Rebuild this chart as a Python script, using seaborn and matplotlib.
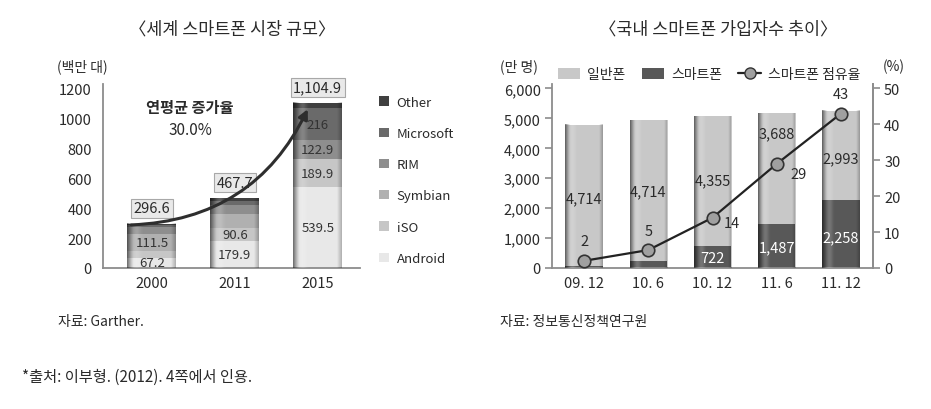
import numpy as np
import pandas as pd
import matplotlib
matplotlib.use("Agg")
import matplotlib.pyplot as plt
import seaborn as sns
from matplotlib.patches import Patch
from matplotlib.lines import Line2D

# ---------------- data ----------------
years = ["2000", "2011", "2015"]
android = [67.2, 179.9, 539.5]
ios = [46.6, 90.6, 189.9]
symbian = [111.5, 89.9, 0.7]
rim = [47.5, 62.6, 122.9]
microsoft = [12.4, 26.3, 216.0]
other = [11.4, 18.4, 35.9]
total_labels = ["296.6", "467.7", "1,104.9"]
os_names = ["Android", "iSO", "Symbian", "RIM", "Microsoft", "Other"]

periods = ["09. 12", "10. 6", "10. 12", "11. 6", "11. 12"]
feature = [4714, 4714, 4355, 3688, 2993]
smart = [80, 220, 722, 1487, 2258]
share = [2, 5, 14, 29, 43]

# ---------------- style ----------------
sns.set_theme(style="white")
FONT = ["Noto Sans CJK KR", "DejaVu Sans"]
plt.rcParams["font.family"] = FONT
TXT = "#2a2a2a"
SPINE = "#8c8c8c"

W, H = 931, 410
fig = plt.figure(figsize=(W / 100, H / 100), dpi=100)
fig.patch.set_facecolor("white")


def fx(px):
    return px / W


def fy(py):
    return 1 - py / H


def shade(ax, xc, width, top, z):
    u = np.linspace(0, 1, 240)
    dark = 0.55 * np.clip(1 - u / 0.14, 0, 1) ** 1.3 + 0.25 * np.clip((u - 0.90) / 0.10, 0, 1)
    img = np.zeros((1, 240, 4))
    img[..., 3] = dark
    ax.imshow(img, extent=(xc - width / 2, xc + width / 2, 0, top), aspect="auto",
              zorder=z, interpolation="bilinear")
    light = 0.18 * np.exp(-((u - 0.2) / 0.08) ** 2)
    img2 = np.ones((1, 240, 4))
    img2[..., 3] = light
    ax.imshow(img2, extent=(xc - width / 2, xc + width / 2, 0, top), aspect="auto",
              zorder=z, interpolation="bilinear")


# ================= LEFT CHART =================
ax1 = fig.add_axes([fx(103), fy(269), fx(257), (269 - 85) / H])
layers = np.array([android, ios, symbian, rim, microsoft, other])
cum = np.cumsum(layers, axis=0)
colors_os = ["#e8e8e8", "#c6c6c6", "#b0b0b0", "#8e8e8e", "#6a6a6a", "#404040"]
bw1 = 0.59
for i in reversed(range(len(os_names))):
    sns.barplot(x=years, y=cum[i], color=colors_os[i], saturation=1, width=bw1,
                errorbar=None, linewidth=0, ax=ax1, zorder=2)
totals = cum[-1]
for j in range(len(years)):
    shade(ax1, j, bw1, totals[j], 3)

# segment labels
label_cells = [(0, 0), (0, 1), (0, 2), (1, 1), (1, 2), (2, 0), (3, 2), (4, 2)]
for (i, j) in label_cells:
    v = layers[i, j]
    base = cum[i, j] - v
    ax1.text(j, base + v / 2, f"{v:g}", ha="center", va="center", fontsize=9.5,
             color="#333333", zorder=5)

# total boxes
for j, lab in enumerate(total_labels):
    ax1.annotate(lab, (j, totals[j]), xytext=(0, 11), textcoords="offset points",
                 ha="center", va="center", fontsize=10.5, color=TXT, zorder=6,
                 annotation_clip=False,
                 bbox=dict(boxstyle="square,pad=0.18", fc="#e9e9e9", ec="#a8a8a8", lw=0.8))

# growth arrow
ax1.annotate("", xy=(1.88, 1062), xytext=(-0.25, 288),
             arrowprops=dict(arrowstyle="-|>", color="#2e2e2e", lw=2.2,
                             connectionstyle="arc3,rad=0.3", mutation_scale=14,
                             shrinkA=0, shrinkB=0), zorder=7)
ax1.text(0.46, 1075, "연평균 증가율", ha="center", va="center", fontsize=11,
         fontweight="bold", color=TXT)
ax1.text(0.46, 925, "30.0%", ha="center", va="center", fontsize=11, color=TXT)

ax1.set_xlim(-0.59, 2.51)
ax1.set_ylim(0, 1230)
ax1.set_yticks(np.arange(0, 1201, 200))
ax1.set_yticklabels([f"{v}" for v in range(0, 1201, 200)])
ax1.set_xticks(range(len(years)))
ax1.set_xticklabels(years)
ax1.set_xticks(np.arange(-0.5, len(years), 1), minor=True)
ax1.tick_params(axis="x", which="major", length=0, pad=6, labelsize=10.5, colors=TXT)
ax1.tick_params(axis="x", which="minor", length=5, width=1.2, color=SPINE, direction="out")
ax1.tick_params(axis="y", which="major", length=5, width=1.2, color=SPINE, direction="out",
                labelsize=10.5, labelcolor=TXT, pad=3)
for s in ["top", "right"]:
    ax1.spines[s].set_visible(False)
for s in ["left", "bottom"]:
    ax1.spines[s].set_color(SPINE)
    ax1.spines[s].set_linewidth(1.3)
ax1.set_xlabel("")
ax1.set_ylabel("")

handles1 = [Patch(facecolor=colors_os[i], edgecolor="none") for i in reversed(range(6))]
labels1 = list(reversed(os_names))
leg1 = ax1.legend(handles1, labels1, loc="upper left", bbox_to_anchor=(1.055, 0.965),
                  frameon=False, fontsize=9.5, handlelength=0.7, handleheight=0.7,
                  handletextpad=0.6, labelspacing=1.38, borderaxespad=0)
for t in leg1.get_texts():
    t.set_color(TXT)

# ================= RIGHT CHART =================
ax2 = fig.add_axes([fx(552), fy(269), fx(321), (269 - 85) / H])
c_feat = "#c8c8c8"
c_smart = "#585858"
bw2 = 0.58
tot2 = np.array(feature) + np.array(smart)
sns.barplot(x=periods, y=tot2, color=c_feat, saturation=1, width=bw2, errorbar=None,
            linewidth=0, ax=ax2, zorder=2)
sns.barplot(x=periods, y=smart, color=c_smart, saturation=1, width=bw2, errorbar=None,
            linewidth=0, ax=ax2, zorder=2)
for j in range(len(periods)):
    shade(ax2, j, bw2, tot2[j], 3)

feat_frac = [0.48, 0.50, 0.51, 0.82, 0.47]
for j, v in enumerate(feature):
    ax2.text(j, smart[j] + v * feat_frac[j], f"{v:,}", ha="center", va="center",
             fontsize=10.5, color=TXT, zorder=5)
for j, v in enumerate(smart):
    if v > 500:
        ax2.text(j, v * 0.46, f"{v:,}", ha="center", va="center", fontsize=10.5,
                 color="white", zorder=5)

ax2.set_xlim(-0.5, 4.5)
ax2.set_ylim(0, 6150)
ax2.set_yticks(np.arange(0, 6001, 1000))
ax2.set_yticklabels([f"{v:,}" for v in range(0, 6001, 1000)])
ax2.set_xticks(range(len(periods)))
ax2.set_xticklabels(periods)
ax2.set_xticks(np.arange(-0.5, len(periods), 1), minor=True)
ax2.tick_params(axis="x", which="major", length=0, pad=6, labelsize=10.5, colors=TXT)
ax2.tick_params(axis="x", which="minor", length=5, width=1.2, color=SPINE, direction="out")
ax2.tick_params(axis="y", which="major", length=5, width=1.2, color=SPINE, direction="out",
                labelsize=10.5, labelcolor=TXT, pad=3)
ax2.spines["top"].set_visible(False)
for s in ["left", "bottom", "right"]:
    ax2.spines[s].set_color(SPINE)
    ax2.spines[s].set_linewidth(1.3)
ax2.set_xlabel("")
ax2.set_ylabel("")

ax3 = ax2.twinx()
df_share = pd.DataFrame({"pos": np.arange(len(periods)), "share": share})
sns.lineplot(data=df_share, x="pos", y="share", ax=ax3, color="#222222", lw=1.6,
             marker="o", markersize=9, markerfacecolor="#a0a0a0",
             markeredgecolor="#333333", markeredgewidth=1.2, zorder=6)
ax3.set_ylim(0, 50 * 6150 / 6000)
ax3.set_xlim(-0.5, 4.5)
ax3.set_yticks(np.arange(0, 51, 10))
ax3.tick_params(axis="y", length=5, width=1.2, color=SPINE, direction="out",
                labelsize=10.5, labelcolor=TXT, pad=3)
ax3.set_xlabel("")
ax3.set_ylabel("")
for s in ["top", "left", "bottom"]:
    ax3.spines[s].set_visible(False)
ax3.spines["right"].set_color(SPINE)
ax3.spines["right"].set_linewidth(1.3)

share_off = [(0, 14), (0, 14), (14, -4), (16, -7), (0, 14)]
for j, v in enumerate(share):
    ax3.annotate(f"{v}", (j, v), xytext=share_off[j], textcoords="offset points",
                 ha="center", va="center", fontsize=10.5, color=TXT, zorder=7)

handles2 = [Patch(facecolor=c_feat, edgecolor="none"),
            Patch(facecolor=c_smart, edgecolor="none"),
            Line2D([0], [0], color="#222222", lw=1.6, marker="o", markersize=8,
                   markerfacecolor="#a0a0a0", markeredgecolor="#333333")]
leg2 = ax2.legend(handles2, ["일반폰", "스마트폰", "스마트폰 점유율"], loc="lower left",
                  bbox_to_anchor=(0.0, 0.985), ncol=3, frameon=False, fontsize=10,
                  handlelength=1.6, handleheight=0.8, handletextpad=0.5,
                  columnspacing=1.2, borderaxespad=0)
for t in leg2.get_texts():
    t.set_color(TXT)

# ================= TEXTS =================
fig.text(fx(232), fy(30), "〈세계 스마트폰 시장 규모〉", ha="center", va="center",
         fontsize=12.5, color=TXT)
fig.text(fx(718), fy(30), "〈국내 스마트폰 가입자수 추이〉", ha="center", va="center",
         fontsize=12.5, color=TXT)
fig.text(fx(57), fy(67), "(백만 대)", ha="left", va="center", fontsize=10, color=TXT)
fig.text(fx(500), fy(67), "(만 명)", ha="left", va="center", fontsize=10, color=TXT)
fig.text(fx(883), fy(67), "(%)", ha="left", va="center", fontsize=10, color=TXT)
fig.text(fx(58), fy(322), "자료: Garther.", ha="left", va="center", fontsize=10, color=TXT)
fig.text(fx(500), fy(322), "자료: 정보통신정책연구원", ha="left", va="center", fontsize=10,
         color=TXT)
fig.text(fx(22), fy(377), "*출처: 이부형. (2012). 4쪽에서 인용.", ha="left", va="center",
         fontsize=11, color=TXT)

fig.savefig("out.png", dpi=100, facecolor="white")
